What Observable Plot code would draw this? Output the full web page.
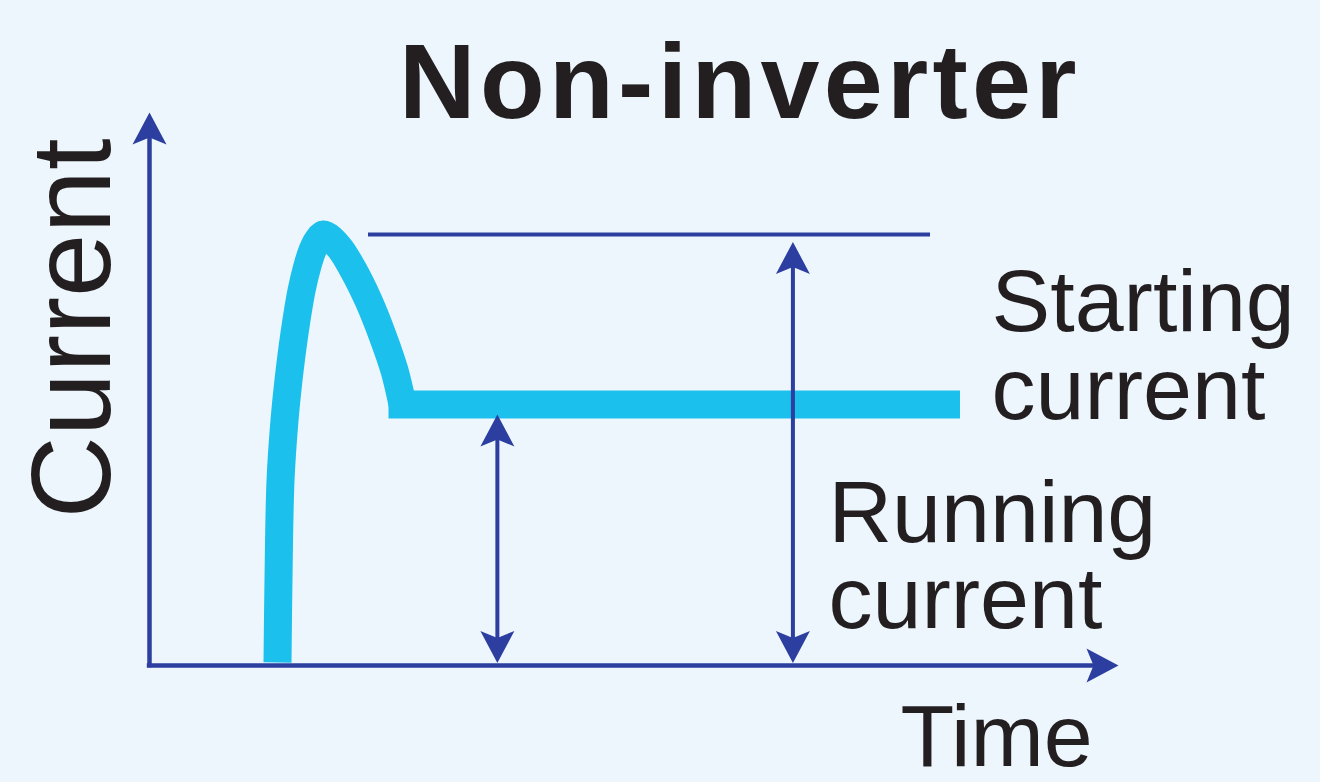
<!DOCTYPE html>
<html><head><meta charset="utf-8">
<script src="https://cdn.jsdelivr.net/npm/d3@7"></script>
<script src="https://cdn.jsdelivr.net/npm/@observablehq/plot@0.6"></script>
<style>
html,body{margin:0;padding:0;background:#eef6fd;}
#chart{width:1320px;height:782px;}
</style></head><body><div id="chart"></div>
<script>
// ---- texts ----
const title = "Non-inverter";
const xLabel = "Time";
const yLabel = "Current";
const startLabel = "Starting\ncurrent";
const runLabel = "Running\ncurrent";

// ---- values (axis units 0–100 on both axes) ----
const surgeTime    = [13.21, 13.31, 13.52, 13.93, 14.34, 14.96, 15.69, 16.31, 16.82, 17.34, 17.96, 19.50, 20.95, 22.60, 24.05, 25.28, 26.11];
const surgeCurrent = [0.54, 15.37, 33.45, 44.30, 51.54, 60.04, 67.81, 72.33, 75.05, 76.85, 77.94, 75.77, 71.79, 66.00, 59.67, 53.35, 47.20];
const runningTime  = [26.11, 82.2];
const runningLevel = 47.2;
const startingLevel = 77.94;
const startingLineTime = [22.6, 80.6];
const runningArrowTime = 35.9;
const startingArrowTime = 66.4;
const axisMax = 100;

// ---- styles ----
const BLUE = "#2c3e9f", CYAN = "#1bc0ec", INK = "#231f20", BG = "#eef6fd";
const FONT = "'Liberation Sans', Arial, Helvetica, sans-serif";

// filled arrowhead symbol, tip at the anchor point, pointing along (ux, uy)
function head(ux, uy) {
  const L = 32, W = 17, N = 7;
  return {draw(ctx) {
    const px = -uy, py = ux;
    ctx.moveTo(0, 0);
    ctx.lineTo(-L*ux + W*px, -L*uy + W*py);
    ctx.lineTo(-(L-N)*ux, -(L-N)*uy);
    ctx.lineTo(-L*ux - W*px, -L*uy - W*py);
    ctx.closePath();
  }};
}

const surge = surgeTime.map((t, i) => ({t, c: surgeCurrent[i]}));
const running = runningTime.map(t => ({t, c: runningLevel}));

const headStyle = {fill: BLUE, stroke: "none"};

const svg = Plot.plot({
  width: 1320, height: 782,
  marginLeft: 149, marginRight: 202, marginTop: 112, marginBottom: 117,
  x: {domain: [0, axisMax], axis: null},
  y: {domain: [0, axisMax], axis: null},
  style: {background: BG, overflow: "visible"},
  marks: [
    // current curve
    Plot.line(surge, {x: "t", y: "c", curve: "catmull-rom", stroke: CYAN, strokeWidth: 28, strokeLinecap: "butt", strokeLinejoin: "round"}),
    Plot.line(running, {x: "t", y: "c", stroke: CYAN, strokeWidth: 28, strokeLinecap: "square"}),
    // axes
    Plot.ruleX([0], {y1: axisMax, y2: 0, stroke: BLUE, strokeWidth: 4.5, insetTop: 20, insetBottom: -2.2}),
    Plot.ruleY([0], {x1: 0, x2: axisMax, stroke: BLUE, strokeWidth: 4.5, insetRight: 20, insetLeft: -2.2}),
    Plot.dot([{t: 0, c: axisMax}], {x: "t", y: "c", symbol: head(0, -1), ...headStyle}),
    Plot.dot([{t: axisMax, c: 0}], {x: "t", y: "c", symbol: head(1, 0), ...headStyle}),
    // starting current reference line
    Plot.ruleY([startingLevel], {x1: startingLineTime[0], x2: startingLineTime[1], stroke: BLUE, strokeWidth: 4}),
    // running current double arrow
    Plot.ruleX([runningArrowTime], {y1: runningLevel, y2: 0, stroke: BLUE, strokeWidth: 4, insetTop: 30, insetBottom: 20}),
    Plot.dot([{t: runningArrowTime, c: runningLevel}], {x: "t", y: "c", dy: 10, symbol: head(0, -1), ...headStyle}),
    Plot.dot([{t: runningArrowTime, c: 0}], {x: "t", y: "c", dy: -2.5, symbol: head(0, 1), ...headStyle}),
    // starting current double arrow
    Plot.ruleX([startingArrowTime], {y1: startingLevel, y2: 0, stroke: BLUE, strokeWidth: 4, insetTop: 30, insetBottom: 20}),
    Plot.dot([{t: startingArrowTime, c: startingLevel}], {x: "t", y: "c", dy: 7.5, symbol: head(0, -1), ...headStyle}),
    Plot.dot([{t: startingArrowTime, c: 0}], {x: "t", y: "c", dy: -2.5, symbol: head(0, 1), ...headStyle}),
    // texts
    Plot.text([title], {frameAnchor: "top", dx: 106, dy: 5, lineAnchor: "bottom", textAnchor: "middle",
      fontSize: 106, fontWeight: "bold", fontFamily: FONT, fill: INK}),
    Plot.text([yLabel], {frameAnchor: "left", dx: -40, dy: -60.5, rotate: -90, lineAnchor: "bottom", textAnchor: "middle",
      fontSize: 114, fontFamily: FONT, fill: INK}),
    Plot.text([startLabel], {frameAnchor: "bottom-left", dx: 842, dy: -247, lineAnchor: "bottom", textAnchor: "start",
      lineHeight: 0.99, fontSize: 88, fontFamily: FONT, fill: INK}),
    Plot.text([runLabel], {frameAnchor: "bottom-left", dx: 679, dy: -38, lineAnchor: "bottom", textAnchor: "start",
      lineHeight: 0.97, fontSize: 88, fontFamily: FONT, fill: INK}),
    Plot.text([xLabel], {frameAnchor: "bottom-left", dx: 751, dy: 100, lineAnchor: "bottom", textAnchor: "start",
      fontSize: 88, fontFamily: FONT, fill: INK})
  ]
});

d3.select(svg).selectAll("text").filter(function() { return this.textContent === title; })
  .style("letter-spacing", "4.3px");

document.getElementById("chart").appendChild(svg);
</script>
</body></html>
